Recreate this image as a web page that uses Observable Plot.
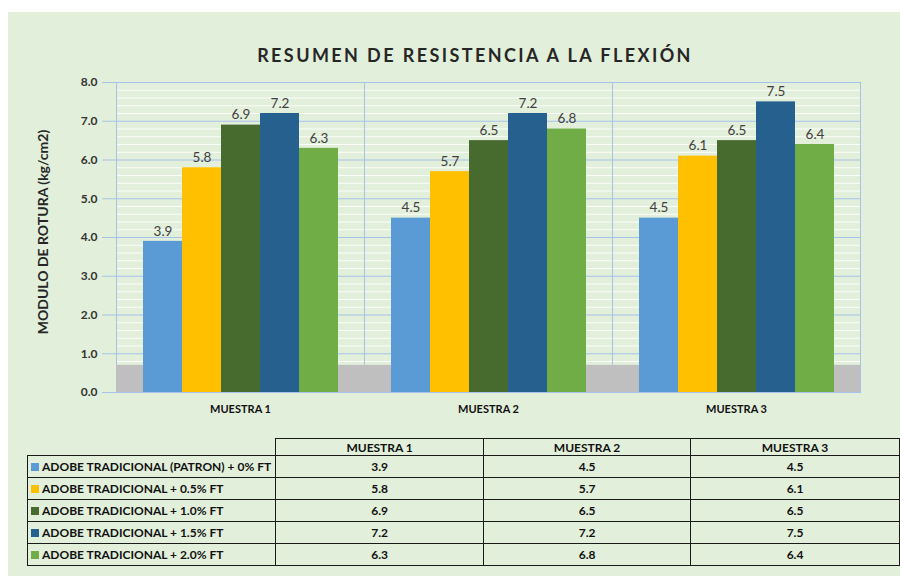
<!DOCTYPE html>
<html>
<head>
<meta charset="utf-8">
<script src="https://cdn.jsdelivr.net/npm/d3@7"></script>
<script src="https://cdn.jsdelivr.net/npm/@observablehq/plot@0.6"></script>
<style>
  html, body { margin: 0; padding: 0; background: #ffffff; width: 900px; height: 576px; overflow: hidden; font-family: Lato, "Open Sans", sans-serif; }
  #panel { position: absolute; left: 8px; top: 12px; width: 892px; height: 564px; background: #e2efda; }
  #title { position: absolute; left: 475px; top: 44px; transform: translateX(-50%); white-space: nowrap;
           font: bold 18px Lato, sans-serif; letter-spacing: 2.4px; color: #262626; }
  #ylabel { position: absolute; left: 42px; top: 232px; transform: translate(-50%, -50%) rotate(-90deg); white-space: nowrap;
            font: bold 14px Lato, sans-serif; color: #262626; }
  #chart { position: absolute; left: 0; top: 70px; }
  #tbl { position: absolute; left: 27px; top: 438px; border-collapse: collapse; font: bold 12px Lato, sans-serif; color: #111; table-layout: fixed; }
  #tbl td, #tbl th { border: 1.4px solid #1a1a1a; padding: 0 4px; text-align: center; font-weight: bold; }
  #tbl th { height: 16px; }
  #tbl td { height: 21px; }
  #tbl td.name { text-align: left; padding-left: 3px; white-space: nowrap; }
  #tbl th.empty { border-top: none; border-left: none; }
  .sw { display: inline-block; width: 8px; height: 8px; margin-right: 3px; vertical-align: 0px; }
</style>
</head>
<body>
<div id="panel"></div>
<div id="title">RESUMEN DE RESISTENCIA A LA FLEXIÓN</div>
<div id="ylabel">MODULO DE ROTURA (kg/cm2)</div>
<div id="chart"></div>
<table id="tbl"></table>
<script>
// ---- data ----
const muestras = ["MUESTRA 1", "MUESTRA 2", "MUESTRA 3"];
const series = [
  "ADOBE TRADICIONAL (PATRON) + 0% FT",
  "ADOBE TRADICIONAL + 0.5% FT",
  "ADOBE TRADICIONAL + 1.0% FT",
  "ADOBE TRADICIONAL + 1.5% FT",
  "ADOBE TRADICIONAL + 2.0% FT"
];
const valuesPatron = [3.9, 4.5, 4.5];
const values05 = [5.8, 5.7, 6.1];
const values10 = [6.9, 6.5, 6.5];
const values15 = [7.2, 7.2, 7.5];
const values20 = [6.3, 6.8, 6.4];
const yTicks = [0, 1, 2, 3, 4, 5, 6, 7, 8];

// ---- styles ----
const colors = ["#5b9bd5", "#ffc000", "#476b2f", "#26608f", "#70ad47"];
const gridBlue = "#a7c2ea";
const FLOOR_DEPTH = 0.7;

const seriesValues = [valuesPatron, values05, values10, values15, values20];
const rows = [];
series.forEach((s, i) => muestras.forEach((m, j) => rows.push({serie: s, muestra: m, value: seriesValues[i][j]})));
const minorTicks = d3.range(1, 40).map(k => k / 5).filter(v => Math.abs(v - Math.round(v)) > 1e-9);
const fmt = d3.format(".1f");

const chart = Plot.plot({
  width: 900,
  height: 355,
  marginTop: 12,
  marginBottom: 33,
  marginLeft: 115,
  marginRight: 40,
  style: {fontFamily: "Lato, sans-serif", background: "transparent", overflow: "visible"},
  fx: {domain: muestras, padding: 0, label: null},
  x: {domain: series, axis: null, paddingInner: 0, paddingOuter: 0.635},
  y: {domain: [0, 8], label: null},
  color: {domain: series, range: colors},
  marks: [
    Plot.ruleY(minorTicks, {stroke: "#ffffff", strokeWidth: 1, strokeOpacity: 0.9}),
    Plot.ruleY(yTicks, {stroke: gridBlue, strokeWidth: 1}),
    Plot.frame({stroke: gridBlue, strokeWidth: 1}),
    Plot.rect([FLOOR_DEPTH], {y1: 0, y2: d => d, fill: "#bfbfbf"}),
    Plot.barY(rows, {fx: "muestra", x: "serie", y: "value", fill: "serie"}),
    Plot.text(rows, {fx: "muestra", x: "serie", y: "value", text: d => fmt(d.value), dy: -10, fontSize: 13.5, fill: "#404040"}),
    Plot.axisY(yTicks, {tickFormat: fmt, tickSize: 14, tickPadding: 5, stroke: gridBlue, fill: "#333333", fontWeight: "bold", fontSize: 12, label: null}),
    Plot.axisFx({anchor: "bottom", tickSize: 0, tickPadding: 13, fontWeight: "bold", fontSize: 11, fill: "#111111", label: null})
  ]
});
document.getElementById("chart").appendChild(chart);

// ---- data table ----
const tbl = document.getElementById("tbl");
const colW = [246, 208, 207, 209];
const cg = document.createElement("colgroup");
colW.forEach(w => { const c = document.createElement("col"); c.style.width = w + "px"; cg.appendChild(c); });
tbl.appendChild(cg);
const head = document.createElement("tr");
const e = document.createElement("th"); e.className = "empty"; head.appendChild(e);
muestras.forEach(m => { const th = document.createElement("th"); th.textContent = m; head.appendChild(th); });
tbl.appendChild(head);
series.forEach((s, i) => {
  const tr = document.createElement("tr");
  const td = document.createElement("td"); td.className = "name";
  const sw = document.createElement("span"); sw.className = "sw"; sw.style.background = colors[i];
  td.appendChild(sw); td.appendChild(document.createTextNode(s));
  tr.appendChild(td);
  seriesValues[i].forEach(v => { const c = document.createElement("td"); c.textContent = fmt(v); tr.appendChild(c); });
  tbl.appendChild(tr);
});
</script>
</body>
</html>
